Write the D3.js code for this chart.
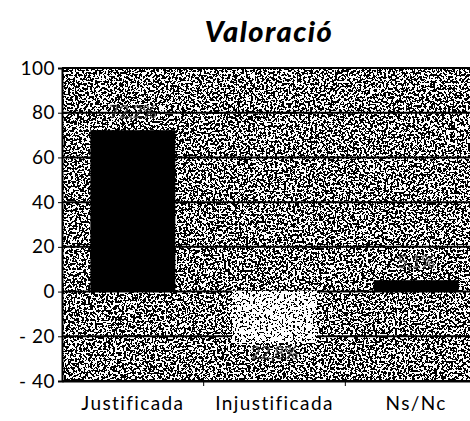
<!DOCTYPE html>
<html>
<head>
<meta charset="utf-8">
<style>
  body { margin: 0; background: #fff; }
  svg { display: block; }
  .tick text { font-family: "Lato", "DejaVu Sans", sans-serif; }
</style>
</head>
<body>
<svg width="470" height="421"></svg>
<script src="https://cdn.jsdelivr.net/npm/d3@7/dist/d3.min.js"></script>
<script>

var categories = ["Justificada", "Injustificada", "Ns/Nc"];
var values = [72.2, -22.8, 5.1];
var valueLabels = ["72,2%", "22,8%", "5,1%"];
var yTicks = [-40, -20, 0, 20, 40, 60, 80, 100];

var svg = d3.select("svg"),
    margin = {top: 68, right: -17, bottom: 40, left: 62},
    width = +svg.attr("width") - margin.left - margin.right,
    height = +svg.attr("height") - margin.top - margin.bottom;

// dithered noise look of the scanned chart
var defs = svg.append("defs");
function noise(id, freq, cut) {
  var table = d3.range(20).map(function(i) { return i / 20 < cut ? 0 : 1; }).join(" ");
  var f = defs.append("filter").attr("id", id)
      .attr("x", 0).attr("y", 0).attr("width", 1).attr("height", 1);
  f.append("feTurbulence").attr("type", "fractalNoise")
      .attr("baseFrequency", freq).attr("numOctaves", 3).attr("seed", 5);
  f.append("feColorMatrix").attr("type", "matrix")
      .attr("values", "1 0 0 0 0  1 0 0 0 0  1 0 0 0 0  0 0 0 0 1");
  var ct = f.append("feComponentTransfer");
  ["feFuncR", "feFuncG", "feFuncB"].forEach(function(c) {
    ct.append(c).attr("type", "discrete").attr("tableValues", table);
  });
}
noise("bg", 0.45, 0.5);
noise("light", 0.45, 0.4);

var g = svg.append("g").attr("transform", "translate(" + margin.left + "," + margin.top + ")");

var x = d3.scaleBand().domain(categories).range([0, width]).paddingInner(0.4).paddingOuter(0.2);
var xb = d3.scaleBand().domain(categories).range([0, width]);
var y = d3.scaleLinear().domain([-40, 100]).range([height, 0]);

g.append("rect")
    .attr("width", width).attr("height", height)
    .attr("fill", "#777").attr("filter", "url(#bg)");

// gridlines
g.selectAll("line.grid").data(yTicks).enter().append("line")
    .attr("x1", 0).attr("x2", width)
    .attr("y1", function(d) { return y(d); })
    .attr("y2", function(d) { return y(d); })
    .attr("stroke", "#000").attr("stroke-width", 2);

g.selectAll("rect.bar").data(values).enter().append("rect")
    .attr("x", function(d, i) { return x(categories[i]); })
    .attr("width", x.bandwidth())
    .attr("y", function(d) { return y(Math.max(0, d)); })
    .attr("height", function(d) { return Math.abs(y(d) - y(0)); })
    .attr("fill", function(d) { return d < 0 ? "#ccc" : "#000"; })
    .attr("filter", function(d) { return d < 0 ? "url(#light)" : null; });

// value labels
g.selectAll("text.val").data(values).enter().append("text")
    .attr("x", function(d, i) { return x(categories[i]) + x.bandwidth() / 2; })
    .attr("y", function(d) { return d < 0 ? y(d) + 16 : y(d) - 12; })
    .attr("text-anchor", "middle")
    .attr("font-family", "Lato, sans-serif")
    .attr("font-size", 17)
    .attr("fill", "#000")
    .attr("stroke", "#555").attr("stroke-width", 0.6)
    .attr("opacity", 0.7)
    .text(function(d, i) { return valueLabels[i]; });

// y axis
var yAxis = g.append("g")
    .call(d3.axisLeft(y).tickValues(yTicks).tickSize(4).tickPadding(3)
      .tickFormat(function(d) { return d < 0 ? "- " + Math.abs(d) : d; }));
yAxis.select(".domain").attr("stroke", "#000").attr("stroke-width", 2);
yAxis.selectAll(".tick text").attr("font-size", 19).attr("fill", "#000").attr("letter-spacing", 0.5);

// x axis
var xAxis = g.append("g").attr("transform", "translate(0," + height + ")")
    .call(d3.axisBottom(xb).tickSize(0).tickPadding(16));
xAxis.select(".domain").attr("stroke", "#000").attr("stroke-width", 2);
xAxis.selectAll(".tick text").attr("font-size", 19).attr("fill", "#000").attr("letter-spacing", 1.4);
xAxis.selectAll("line.sep").data(categories.slice(1)).enter().append("line")
    .attr("x1", function(d) { return xb(d); }).attr("x2", function(d) { return xb(d); })
    .attr("y1", 0).attr("y2", 5).attr("stroke", "#000");

svg.append("text")
    .attr("x", 269).attr("y", 42)
    .attr("text-anchor", "middle")
    .attr("font-family", "Lato, sans-serif")
    .attr("font-weight", 900).attr("font-style", "italic")
    .attr("font-size", 29)
    .attr("letter-spacing", 1.5)
    .text("Valoració");

</script>
</body>
</html>
